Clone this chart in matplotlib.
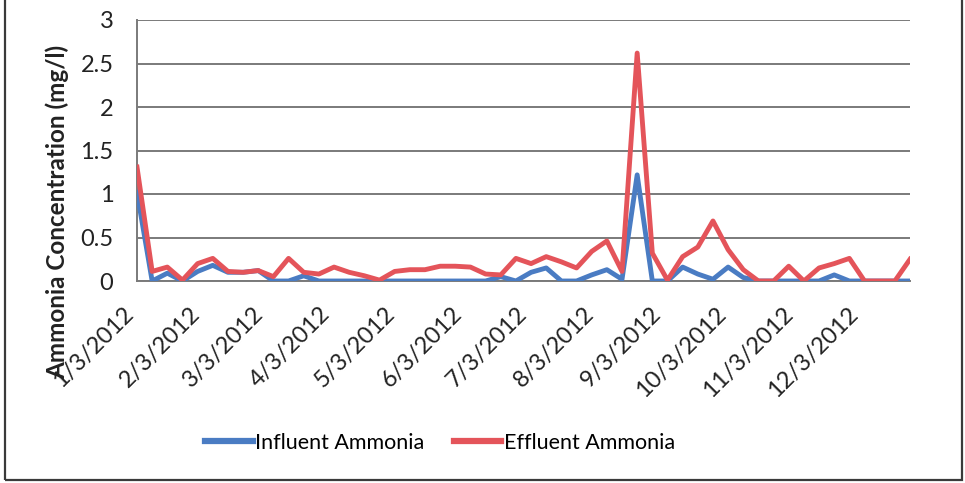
import numpy as np
import pandas as pd
import matplotlib
matplotlib.use("Agg")
import matplotlib.pyplot as plt
import matplotlib.patches as patches

plt.rcParams['font.family'] = ['Lato', 'DejaVu Sans']

# weekly samples, 2012
dates = pd.date_range('2012-01-03', periods=52, freq='7D')

influent = [1.02, 0.00, 0.09, 0.00, 0.11, 0.18, 0.10, 0.10, 0.12, 0.00,
            0.00, 0.06, 0.00, 0.00, 0.00, 0.00, 0.00, 0.00, 0.00, 0.00,
            0.00, 0.00, 0.00, 0.00, 0.05, 0.00, 0.10, 0.15, 0.00, 0.00,
            0.07, 0.13, 0.02, 1.22, 0.00, 0.00, 0.16, 0.08, 0.02, 0.16,
            0.04, 0.00, 0.00, 0.00, 0.00, 0.00, 0.07, 0.00, 0.00, 0.00,
            0.00, 0.00]

effluent = [1.31, 0.11, 0.16, 0.01, 0.20, 0.26, 0.11, 0.10, 0.12, 0.05,
            0.26, 0.10, 0.08, 0.16, 0.10, 0.06, 0.01, 0.11, 0.13, 0.13,
            0.17, 0.17, 0.16, 0.08, 0.07, 0.26, 0.20, 0.28, 0.22, 0.15,
            0.34, 0.46, 0.11, 2.62, 0.32, 0.01, 0.28, 0.39, 0.69, 0.36,
            0.13, 0.00, 0.00, 0.17, 0.00, 0.15, 0.20, 0.26, 0.00, 0.00,
            0.00, 0.25]

W, H = 965, 483
fig = plt.figure(figsize=(W / 100, H / 100), dpi=100)
ax = fig.add_axes([137 / W, 1 - 281 / H, (910 - 137) / W, (281 - 20) / H])

ax.plot(dates, influent, color='#4a7cc3', lw=3.5, solid_joinstyle='round',
        label='Influent Ammonia', zorder=3)
ax.plot(dates, effluent, color='#e4545a', lw=3.5, solid_joinstyle='round',
        label='Effluent Ammonia', zorder=4)

ax.set_xlim(dates[0], dates[-1])
ax.set_ylim(0, 3)
ax.set_yticks(np.arange(0, 3.01, 0.5))
ax.set_yticklabels(['0', '0.5', '1', '1.5', '2', '2.5', '3'])

ticks = pd.date_range('2012-01-01', '2012-12-01', freq='MS') + pd.Timedelta(days=2)
ax.set_xticks(ticks)
ax.set_xticklabels([f'{d.month}/{d.day}/{d.year}' for d in ticks],
                   rotation=45, ha='right')

ax.tick_params(axis='both', length=0, labelsize=17, colors='#222222')
ax.tick_params(axis='y', pad=17)
ax.tick_params(axis='x', pad=16)

ax.grid(axis='y', color='#7a7a7a', lw=1.4)
ax.set_axisbelow(True)
for s in ['top', 'right']:
    ax.spines[s].set_visible(False)
for s in ['left', 'bottom']:
    ax.spines[s].set_color('#7a7a7a')
    ax.spines[s].set_linewidth(1.4)

fig.text(57 / W, 1 - 212 / H, 'Ammonia Concentration (mg/l)', rotation=90,
         ha='center', va='center', fontsize=17.5, fontweight='bold', color='#222222')

leg = fig.legend(loc='center', bbox_to_anchor=(440 / W, 1 - 443 / H), ncol=2,
                 frameon=False, fontsize=15.5, handlelength=2.2, handletextpad=0.1,
                 columnspacing=1.4)
for line in leg.get_lines():
    line.set_linewidth(4.5)

# outer chart border (top is cut off in the scan)
fig.add_artist(patches.Rectangle((5 / W, 3 / H), (962 - 5) / W, 1.2,
                                 transform=fig.transFigure, fill=False,
                                 edgecolor='#3a3a3a', lw=1.6))

fig.savefig('out.png', dpi=100)
